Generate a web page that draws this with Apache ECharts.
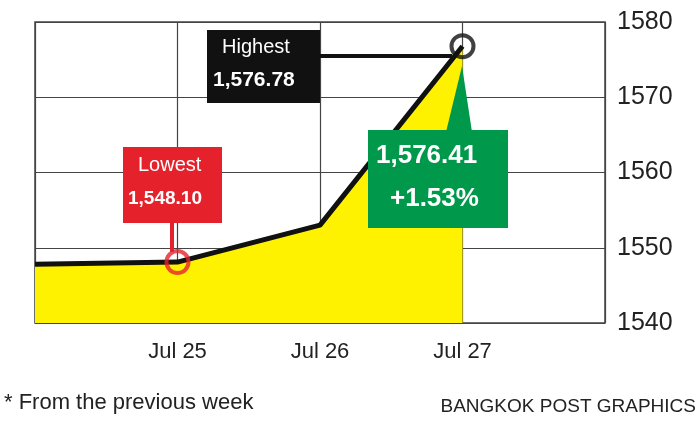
<!DOCTYPE html>
<html><head><meta charset="utf-8">
<script src="https://cdn.jsdelivr.net/npm/echarts@6/dist/echarts.min.js"></script>
<style>html,body{margin:0;padding:0;background:#fff}#c{width:700px;height:429px}</style>
</head><body><div id="c"></div>
<script>
const categories = ['Jul 25','Jul 26','Jul 27'];
const positions = [0,1,2,3];
const values = [1547.8,1548.1,1553.0,1576.78];
const yTicks = [1540,1550,1560,1570,1580];
const F = "'Liberation Sans Narrow','Liberation Sans',Arial,sans-serif";
const chart = echarts.init(document.getElementById('c'));
chart.setOption({
  animation:false,
  backgroundColor:'#fff',
  grid:{left:35,right:95,top:22,bottom:106,show:true,borderColor:'#444',borderWidth:1.5},
  xAxis:{type:'value',min:0,max:4,interval:1,
    axisLine:{show:false},axisTick:{show:false},
    splitLine:{show:true,lineStyle:{color:'#444',width:1.2}},
    axisLabel:{fontFamily:F,fontSize:22,color:'#222',margin:18,
      formatter:v=>categories[v-1]||''}},
  yAxis:{type:'value',position:'right',min:1540,max:1580,interval:10,
    axisLine:{show:false},axisTick:{show:false},
    splitLine:{lineStyle:{color:'#444',width:1.2}},
    axisLabel:{fontFamily:F,fontSize:25,color:'#222',margin:12,formatter:v=>yTicks.includes(v)?String(v):''}},
  series:[
    {type:'line',data:positions.map((p,i)=>[p,values[i]]),symbol:'none',
     lineStyle:{color:'#111',width:5},areaStyle:{color:'#fff200',opacity:1},z:2},
    {type:'scatter',data:[{value:[1,values[1]],itemStyle:{borderColor:'#e5222c'}},{value:[3,values[3]],itemStyle:{borderColor:'#111'}}],
     symbolSize:22,itemStyle:{color:'rgba(0,0,0,0)',borderWidth:4},z:5}
  ],
  graphic:[
    {type:'line',shape:{x1:318,y1:56,x2:452,y2:56},style:{stroke:'#111',lineWidth:4},z:10},
    {type:'rect',shape:{x:207,y:30,width:113,height:73},style:{fill:'#111'},z:10},
    {type:'text',left:222,top:37,style:{text:'Highest',fill:'#fff',font:"20px "+F},z:11},
    {type:'text',left:213,top:70,style:{text:'1,576.78',fill:'#fff',font:"bold 21px "+F},z:11},
    {type:'line',shape:{x1:172,y1:222,x2:172,y2:252},style:{stroke:'#e5222c',lineWidth:4},z:10},
    {type:'rect',shape:{x:123,y:147,width:99,height:76},style:{fill:'#e5222c'},z:10},
    {type:'text',left:138,top:155,style:{text:'Lowest',fill:'#fff',font:"20px "+F},z:11},
    {type:'text',left:128,top:189,style:{text:'1,548.10',fill:'#fff',font:"bold 19px "+F},z:11},
    {type:'polygon',shape:{points:[[446,132],[472,132],[462,66]]},style:{fill:'#00994c'},z:10},
    {type:'rect',shape:{x:368,y:130,width:140,height:98},style:{fill:'#00994c'},z:10},
    {type:'text',left:376,top:143,style:{text:'1,576.41',fill:'#fff',font:"bold 26px "+F},z:11},
    {type:'text',left:390,top:186,style:{text:'+1.53%',fill:'#fff',font:"bold 26px "+F},z:11},
    {type:'text',left:4,top:392,style:{text:'* From the previous week',fill:'#222',font:"22px "+F},z:11},
    {type:'text',right:4,top:397,style:{text:'BANGKOK POST GRAPHICS',fill:'#222',font:"19px "+F},z:11}
  ]
});
</script></body></html>
